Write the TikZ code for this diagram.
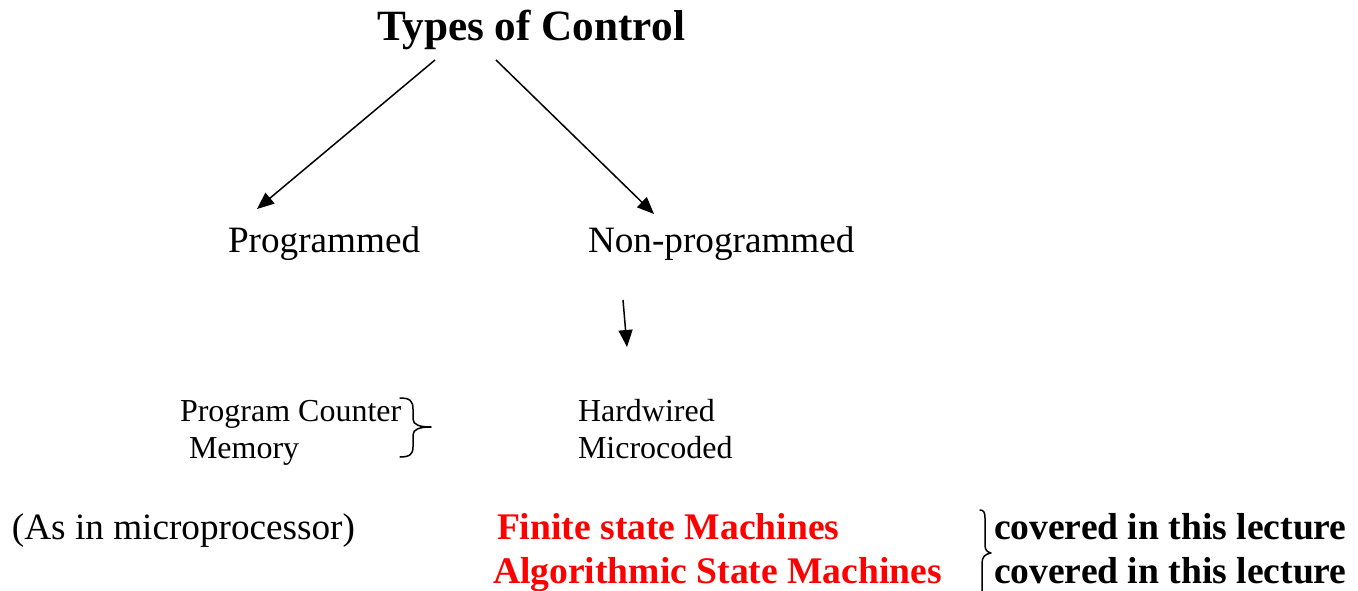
\documentclass[tikz,border=0pt]{standalone}
\usepackage{fontspec}
\setmainfont{Liberation Serif}
\usetikzlibrary{arrows.meta}
\definecolor{lecred}{RGB}{255,0,0}
\tikzset{
  lbl/.style={anchor=base west, inner sep=0pt, outer sep=0pt},
  big/.style={lbl, font=\fontsize{37.2}{44}\selectfont},
  small/.style={lbl, font=\fontsize{32}{38}\selectfont},
  bigbold/.style={lbl, font=\fontsize{37.6}{44}\selectfont\bfseries},
  arr/.style={line width=1.5pt, -{Triangle[length=17pt,width=14pt]}},
  brace/.style={line width=1.5pt, line cap=round, line join=round},
}
\begin{document}
\begin{tikzpicture}[x=1pt,y=-1pt]
\useasboundingbox (0,0) rectangle (1358,591);
\clip (0,0) rectangle (1358,591);
\node[lbl, font=\fontsize{43.2}{50}\selectfont\bfseries] (title) at (377,41) {Types of Control};
\node[big] (prog) at (228,252) {Programmed};
\node[big] (nonprog) at (588,252) {Non-programmed};
\node[small] (pc) at (180,421) {Program Counter};
\node[small] (mem) at (189,458) {Memory};
\node[small] (hw) at (578,421) {Hardwired};
\node[small] (mc) at (578,458) {Microcoded};
\node[big] (asin) at (12,539) {(As in microprocessor)};
\node[bigbold, text=lecred] (fsm) at (497,539) {Finite state Machines};
\node[bigbold, text=lecred] (asm) at (493,583) {Algorithmic State Machines};
\node[bigbold] (cov1) at (994,539) {covered in this lecture};
\node[bigbold] (cov2) at (994,583) {covered in this lecture};
% arrow end points
\coordinate (t1) at (435,60);
\coordinate (p1) at (257,209);
\coordinate (t2) at (496,60);
\coordinate (n1) at (654,214);
\coordinate (n2) at (623,300);
\coordinate (n3) at (627,347);
\draw[arr] (t1) -- (p1);
\draw[arr] (t2) -- (n1);
\draw[arr] (n2) -- (n3);
% braces
\draw[brace] (400,398) .. controls (410,398) and (413,401) .. (413,409)
  -- (413,419) .. controls (413,425) and (420,427) .. (431,427)
  .. controls (420,427) and (413,429) .. (413,435)
  -- (413,447) .. controls (413,454) and (410,457) .. (400,457);
\draw[brace] (980,510) .. controls (984,510) and (985,513) .. (985,518)
  -- (985,545) .. controls (985,550) and (987,552) .. (991,553)
  .. controls (985,554) and (982,557) .. (982,563)
  -- (982,600);
\end{tikzpicture}
\end{document}
